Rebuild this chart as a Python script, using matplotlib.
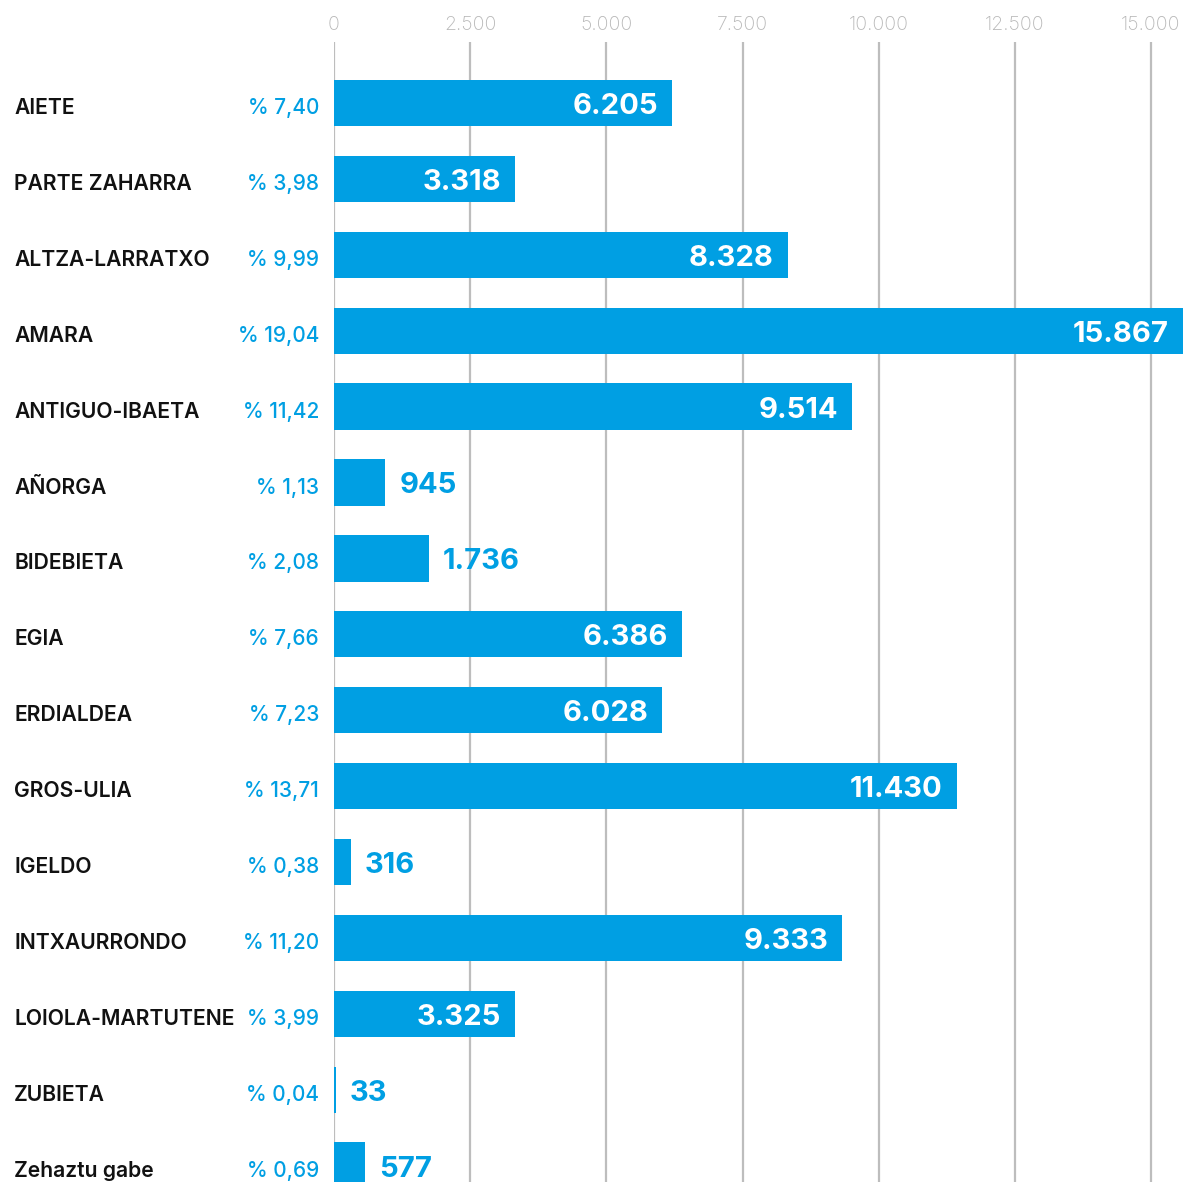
import matplotlib
matplotlib.use('Agg')
import matplotlib.pyplot as plt

# datos
barrios = ['AIETE', 'PARTE ZAHARRA', 'ALTZA-LARRATXO', 'AMARA', 'ANTIGUO-IBAETA',
           'AÑORGA', 'BIDEBIETA', 'EGIA', 'ERDIALDEA', 'GROS-ULIA', 'IGELDO',
           'INTXAURRONDO', 'LOIOLA-MARTUTENE', 'ZUBIETA', 'Zehaztu gabe']
valores = [6205, 3318, 8328, 15867, 9514, 945, 1736, 6386, 6028, 11430, 316,
           9333, 3325, 33, 577]
porcentajes = ['% 7,40', '% 3,98', '% 9,99', '% 19,04', '% 11,42', '% 1,13',
               '% 2,08', '% 7,66', '% 7,23', '% 13,71', '% 0,38', '% 11,20',
               '% 3,99', '% 0,04', '% 0,69']
ticks = [0, 2500, 5000, 7500, 10000, 12500, 15000]
tick_labels = ['0', '2.500', '5.000', '7.500', '10.000', '12.500', '15.000']

azul = '#009fe3'
plt.rcParams['font.family'] = ['Inter', 'DejaVu Sans']

W, H = 1183, 1182
fig = plt.figure(figsize=(W / 100, H / 100), dpi=100)
x0, ytop = 334, 42
ax = fig.add_axes([x0 / W, 0, (W - x0) / W, 1 - ytop / H])

paso = 75.9
centro0 = 103
xmax = (W - x0) / 54.47 * 1000
ax.set_ylim((H - centro0) / paso, -(centro0 - ytop) / paso)
ax.set_xlim(0, xmax)

ax.set_axisbelow(True)
for t in ticks:
    ax.axvline(t, color='#bdbdbd', lw=1.6, zorder=0)

pos = list(range(len(valores)))
ax.barh(pos, valores, height=0.61, color=azul, zorder=2)

for i, v in enumerate(valores):
    txt = f'{v:,}'.replace(',', '.')
    if v > 2500:
        ax.annotate(txt, (min(v, xmax), i), xytext=(-10, -2.5),
                    textcoords='offset points', ha='right', va='center',
                    color='white', fontsize=21, fontweight='bold', zorder=3,
                    annotation_clip=False)
    else:
        ax.annotate(txt, (v, i), xytext=(10, -2.5), textcoords='offset points',
                    ha='left', va='center', color=azul, fontsize=21,
                    fontweight='bold', zorder=3)
    # nombre y porcentaje a la izquierda
    y_fig = 1 - (centro0 + 5 + paso * i) / H
    fig.text(14 / W, y_fig, barrios[i], ha='left', va='center', fontsize=15.2,
             fontweight='semibold', color='#111111')
    fig.text(319 / W, y_fig, porcentajes[i], ha='right', va='center',
             fontsize=15, color=azul, fontweight='medium')

ax.xaxis.tick_top()
ax.set_xticks(ticks)
ax.set_xticklabels(tick_labels, fontsize=14, color='#b8b8b8', fontweight='light')
ax.tick_params(axis='x', length=0, pad=6)
ax.set_yticks([])
for s in ax.spines.values():
    s.set_visible(False)

fig.savefig('out.png', dpi=100)
